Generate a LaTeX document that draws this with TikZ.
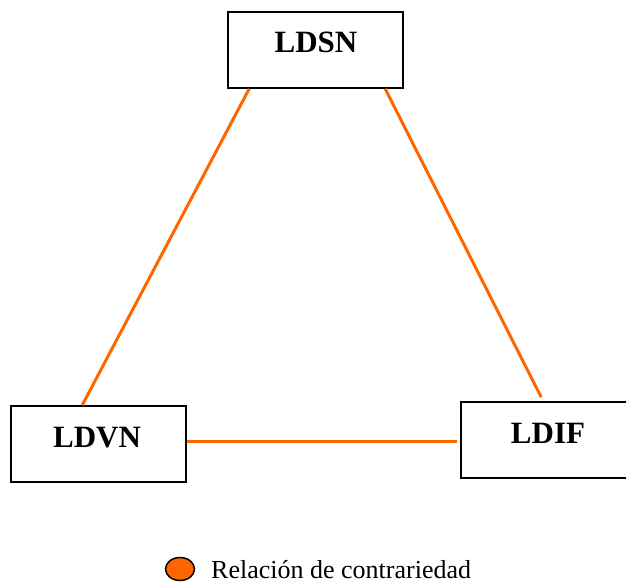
\documentclass[tikz,border=0pt]{standalone}
\usepackage{fontspec}
\setmainfont{Liberation Serif}
\usetikzlibrary{calc,shapes.geometric}
\definecolor{rel}{HTML}{FF6600}
\begin{document}
\begin{tikzpicture}[x=1pt,y=-1pt,
  box/.style={draw=black,line width=1.6pt,minimum width=175pt,minimum height=76pt,inner sep=0pt,fill=white},
  lbl/.style={font=\fontsize{31}{36}\selectfont\bfseries,anchor=base,inner sep=0pt},
  rel/.style={draw=rel,line width=3pt}]
\clip (0,0) rectangle (626,583);
\useasboundingbox (0,0) rectangle (626,583);
\node[box] (ldsn) at (315.5,50) {};
\node[box] (ldvn) at (98.5,444) {};
\node[box] (ldif) at (548.5,440) {};
\node[lbl] (tsn) at (316,53) {LDSN};
\node[lbl] (tvn) at (97,447) {LDVN};
\node[lbl] (tif) at (548,443) {LDIF};
\draw[rel] ($(ldsn.south west)+(22,0)$) -- ($(ldvn.north west)+(72,0)$);
\draw[rel] ($(ldsn.south west)+(158,0)$) -- ($(ldif.north west)+(81,-4)$);
\draw[rel] ($(ldvn.east)+(0,-3)$) -- ($(ldif.west)+(-3,1)$);
\node[draw=black,line width=1.5pt,fill=rel,ellipse,minimum width=29pt,minimum height=23pt,inner sep=0pt] (leg) at (180,569) {};
\node[anchor=base west,inner sep=0pt,font=\fontsize{26}{30}\selectfont] (legt) at (211,578) {Relación de contrariedad};
\end{tikzpicture}
\end{document}
